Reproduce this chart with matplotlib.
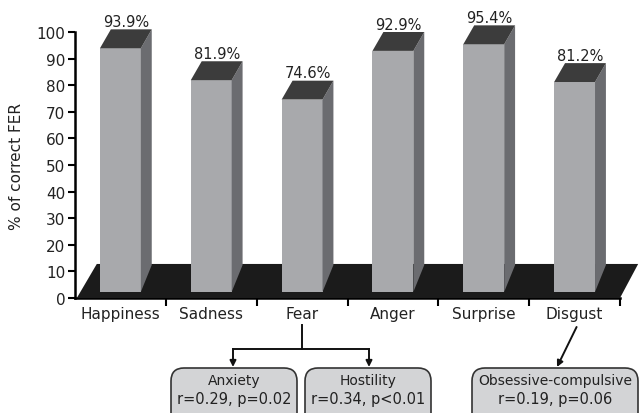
import matplotlib
matplotlib.use("Agg")
import matplotlib.pyplot as plt
from matplotlib.patches import Polygon, Rectangle, FancyBboxPatch

# data
emotions = ["Happiness", "Sadness", "Fear", "Anger", "Surprise", "Disgust"]
correct = [93.9, 81.9, 74.6, 92.9, 95.4, 81.2]
yticks = list(range(0, 101, 10))

front_col = "#a8a9ac"
side_col = "#6b6c70"
top_col = "#3c3c3c"
floor_col = "#1b1b1b"
txt_col = "#222222"

fig = plt.figure(figsize=(6.4, 4.14), dpi=100)
ax = fig.add_axes([75/640, 1-299/414, 545/640, 266/414])
ax.set_xlim(0, 6)
ax.set_ylim(0, 100)

# floor
floor_h = 12.8
ax.add_patch(Polygon([(0.02, 0), (6.0, 0), (6.2, floor_h), (0.24, floor_h)],
                     closed=True, fc=floor_col, ec="none", clip_on=False, zorder=1))

# 3d bars
w = 0.45
dx = 0.12
dy = 7.1
base = 2.3
for i, v in enumerate(correct):
    x0 = i + 0.5 - w/2
    x1 = x0 + w
    ax.add_patch(Rectangle((x0, base), w, v - base, fc=front_col, ec="none", zorder=3, clip_on=False))
    ax.add_patch(Polygon([(x1, base), (x1, v), (x1+dx, v+dy), (x1+dx, floor_h - 0.4)],
                         closed=True, fc=side_col, ec="none", zorder=3, clip_on=False))
    ax.add_patch(Polygon([(x0, v), (x1, v), (x1+dx, v+dy), (x0+dx, v+dy)],
                         closed=True, fc=top_col, ec="none", zorder=3, clip_on=False))
    ax.text(i + 0.5 + dx/2, v + dy + 0.1, f"{v:.1f}%", ha="center", va="bottom",
            fontsize=10.5, color=txt_col)

for s in ["top", "right"]:
    ax.spines[s].set_visible(False)
for s in ["left", "bottom"]:
    ax.spines[s].set_linewidth(1.8)
    ax.spines[s].set_zorder(0.5)

ax.set_yticks(yticks)
ax.tick_params(axis="y", length=5, width=1.5, labelsize=11, pad=2, labelcolor=txt_col)
ax.set_xticks([i + 0.5 for i in range(6)])
ax.set_xticklabels(emotions, fontsize=11, color=txt_col)
ax.set_xticks(range(1, 7), minor=True)
ax.tick_params(axis="x", which="major", length=0, pad=6)
ax.tick_params(axis="x", which="minor", length=6, width=1.5)
ax.set_ylabel("% of correct FER", fontsize=11, color=txt_col)
ax.yaxis.set_label_coords(-0.094, 0.5)

# annotations in pixel coordinates
ax2 = fig.add_axes([0, 0, 1, 1], facecolor="none")
ax2.set_xlim(0, 640)
ax2.set_ylim(414, 0)
ax2.axis("off")

def cx(i):
    return 75 + (i + 0.5) * 545 / 6

arr = dict(arrowstyle="-|>", color="#111111", lw=1.4, mutation_scale=9, shrinkA=0, shrinkB=0)
fx = cx(2)
ax2.plot([fx, fx], [326, 350], color="#111111", lw=1.4)
ax2.plot([233, 369], [350, 350], color="#111111", lw=1.4)
ax2.annotate("", xy=(233, 368), xytext=(233, 350), arrowprops=arr)
ax2.annotate("", xy=(369, 368), xytext=(369, 350), arrowprops=arr)
ax2.annotate("", xy=(557, 368), xytext=(cx(5) + 2, 328), arrowprops=arr)

boxes = [
    (171, 126, "Anxiety", "r=0.29, p=0.02"),
    (305, 126, "Hostility", "r=0.34, p<0.01"),
    (472, 166, "Obsessive-compulsive", "r=0.19, p=0.06"),
]
for bx, bw, t1, t2 in boxes:
    ax2.add_patch(FancyBboxPatch((bx, 369), bw, 70, boxstyle="round,pad=0,rounding_size=13",
                                 fc="#d3d4d6", ec="#333333", lw=1.2))
    ax2.text(bx + bw/2, 381, t1, ha="center", va="center", fontsize=10, color=txt_col)
    ax2.text(bx + bw/2, 400, t2, ha="center", va="center", fontsize=10.5, color=txt_col)

fig.savefig("out.png", dpi=100)
